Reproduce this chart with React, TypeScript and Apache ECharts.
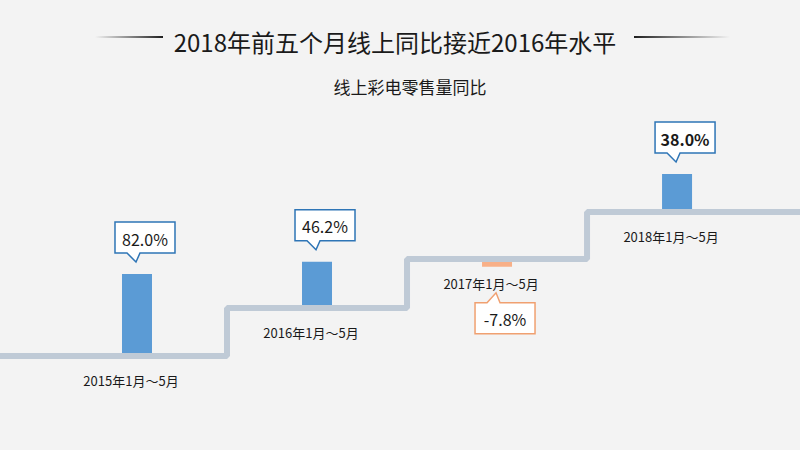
import React, { useEffect, useRef } from 'react';
import * as echarts from 'echarts';

const TITLE = '2018年前五个月线上同比接近2016年水平';
const SUBTITLE = '线上彩电零售量同比';
const categories = ['2015年1月～5月', '2016年1月～5月', '2017年1月～5月', '2018年1月～5月'];
const values = [82.0, 46.2, -7.8, 38.0];
// stair level (base) each period's bar sits on
const stepLevels = [44, 92, 141, 188];

export default function App() {
  const ref = useRef<HTMLDivElement>(null);
  useEffect(() => {
    const chart = echarts.init(ref.current as HTMLDivElement, null, { renderer: 'svg' });
    const font = '"Noto Sans CJK SC", "Microsoft YaHei", sans-serif';
    const n = categories.length;
    // positions 1..n for periods; 0 and n+1 extend the stair to the edges
    const stairData = [[0, stepLevels[0]], ...stepLevels.map((l, i) => [i + 1, l]), [n + 1, stepLevels[n - 1]]];
    const itemData = values.map((v, i) => [i + 1, stepLevels[i], v]);

    const txt = (text: string, x: number, y: number, size: number, bold = false) => ({
      type: 'text',
      x,
      y,
      style: {
        text,
        font: `${bold ? 'bold ' : ''}${size}px ${font}`,
        fill: '#1a1a1a',
        align: 'center',
        verticalAlign: 'middle',
        textAlign: 'center',
        textVerticalAlign: 'middle',
      },
    });

    const option: any = {
      animation: false,
      backgroundColor: '#f3f3f3',
      graphic: [
        txt(TITLE, 395, 41, 24),
        txt(SUBTITLE, 410, 86, 17),
        {
          type: 'rect',
          shape: { x: 95, y: 36, width: 68, height: 2 },
          style: {
            fill: new echarts.graphic.LinearGradient(0, 0, 1, 0, [
              { offset: 0, color: 'rgba(40,40,40,0)' },
              { offset: 1, color: 'rgba(30,30,30,1)' },
            ]),
          },
        },
        {
          type: 'rect',
          shape: { x: 634, y: 36, width: 96, height: 2 },
          style: {
            fill: new echarts.graphic.LinearGradient(0, 0, 1, 0, [
              { offset: 0, color: 'rgba(30,30,30,1)' },
              { offset: 1, color: 'rgba(40,40,40,0)' },
            ]),
          },
        },
      ],
      grid: { left: 0, right: 0, top: 100, bottom: 50 },
      xAxis: { type: 'value', min: 0.239, max: 4.683, show: false },
      yAxis: { type: 'value', min: 0, max: 300, show: false },
      series: [
        {
          type: 'custom',
          name: 'bars',
          coordinateSystem: 'cartesian2d',
          data: itemData,
          z: 1,
          renderItem: (params: any, api: any) => {
            const idx = api.value(0);
            const level = api.value(1);
            const v = api.value(2);
            const base = api.coord([idx, level]);
            const end = api.coord([idx, level + v]);
            const w = 30;
            return {
              type: 'rect',
              shape: {
                x: base[0] - w / 2,
                y: Math.min(base[1], end[1]),
                width: w,
                height: Math.abs(base[1] - end[1]),
              },
              style: { fill: v < 0 ? '#f8b088' : '#5b9bd5' },
            };
          },
        },
        {
          type: 'line',
          step: 'middle',
          data: stairData,
          symbol: 'none',
          lineStyle: { color: '#bfcad6', width: 6 },
          z: 3,
        },
        {
          type: 'custom',
          name: 'callouts',
          coordinateSystem: 'cartesian2d',
          data: itemData,
          z: 5,
          clip: false,
          renderItem: (params: any, api: any) => {
            const idx = api.value(0);
            const level = api.value(1);
            const v = api.value(2);
            const base = api.coord([idx, level]);
            const end = api.coord([idx, level + v]);
            const c = base[0];
            const pos = v >= 0;
            const left = c - 22;
            const w = 60;
            const h = 31;
            let pts: number[][];
            let boxTop: number;
            if (pos) {
              const tipY = end[1] - 12;
              const bb = tipY - 9;
              boxTop = bb - h;
              pts = [[left, boxTop], [left + w, boxTop], [left + w, bb], [c + 3, bb], [c - 1, tipY], [c - 10, bb], [left, bb]];
            } else {
              const tipY = end[1] + 26;
              boxTop = tipY + 10;
              const bb = boxTop + h;
              pts = [[left, boxTop], [c - 10, boxTop], [c - 1, tipY], [c + 3, boxTop], [left + w, boxTop], [left + w, bb], [left, bb]];
            }
            const bold = params.dataIndex === values.length - 1;
            return {
              type: 'group',
              children: [
                {
                  type: 'polygon',
                  shape: { points: pts },
                  style: { fill: '#ffffff', stroke: pos ? '#2e75b6' : '#f0a070', lineWidth: 1.5 },
                },
                txt(v.toFixed(1) + '%', left + w / 2, boxTop + h / 2 + 1, 16, bold),
                txt(categories[params.dataIndex], c - 6, base[1] + 24, 13),
              ],
            };
          },
        },
      ],
    };
    chart.setOption(option);
    return () => chart.dispose();
  }, []);
  return <div ref={ref} style={{ position: 'fixed', left: 0, top: 0, width: 800, height: 450 }} />;
}
